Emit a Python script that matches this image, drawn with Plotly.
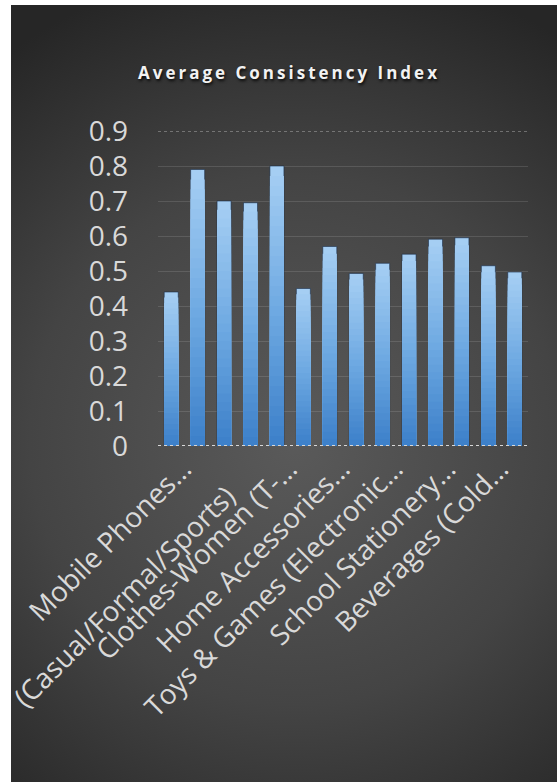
import base64
import plotly.graph_objects as go

# ---- data -------------------------------------------------------------
categories = [
    "Mobile Phones & Accessories",
    "Laptops & Computers",
    "Shoes (Casual/Formal/Sports)",
    "Clothes-Men (Shirts/Trousers)",
    "Clothes-Women (T-Shirts/Dresses)",
    "Watches & Jewellery",
    "Home Accessories & Decor",
    "Kitchen Appliances",
    "Toys & Games (Electronic/Board)",
    "Books & Magazines",
    "School Stationery & Supplies",
    "Snacks & Packaged Foods",
    "Beverages (Cold Drinks/Juices)",
    "Personal Care Products",
]
consistency = [0.44, 0.79, 0.70, 0.695, 0.80, 0.45, 0.57,
               0.493, 0.522, 0.548, 0.591, 0.595, 0.515, 0.497]

# every other category carries a (truncated) label
label_idx = [0, 4, 6, 8, 10, 12]
tick_labels = [
    "Mobile Phones…",
    "Clothes-Women (T-…",
    "Home Accessories…",
    "Toys & Games (Electronic…",
    "School Stationery…",
    "Beverages (Cold…",
]
# this category's label sits lower (wrapped label in the source layout)
wrapped_idx = 2
wrapped_label = "(Casual/Formal/Sports)"
y_ticks = [0, 0.1, 0.2, 0.3, 0.4, 0.5, 0.6, 0.7, 0.8, 0.9]

# ---- geometry ---------------------------------------------------------
W, H = 557, 782
M_L, M_R, M_T, M_B = 158, 29, 131, 336
PW = W - M_L - M_R
PH = H - M_T - M_B


def px_x(px):
    return (px - M_L) / PW


def px_y(py):
    return (H - M_B - py) / PH


FONT = "Open Sans"
LABEL_COLOR = "#d9d9d9"
TICK_SIZE = 28

# ---- dark radial background as an inline SVG --------------------------
bg_w, bg_h = W - 11, H - 5
svg = f"""<svg xmlns='http://www.w3.org/2000/svg' width='{bg_w}' height='{bg_h}'>
<defs><radialGradient id='g' gradientUnits='userSpaceOnUse' cx='{bg_w*0.52}' cy='{bg_h*0.56}' r='{bg_h*0.62}'>
<stop offset='0' stop-color='#5a5a5a'/><stop offset='0.55' stop-color='#444444'/>
<stop offset='1' stop-color='#262626'/></radialGradient></defs>
<rect width='{bg_w}' height='{bg_h}' fill='url(#g)'/></svg>"""
bg_src = "data:image/svg+xml;base64," + base64.b64encode(svg.encode()).decode()

fig = go.Figure()

# ---- bars: vertical gradient built from overlaid bars -----------------
top_rgb = (165, 206, 243)
mid_rgb = (110, 169, 226)
bot_rgb = (58, 126, 200)


def grad(f):
    if f >= 0.5:
        t = (f - 0.5) / 0.5
        a, b = mid_rgb, top_rgb
    else:
        t = f / 0.5
        a, b = bot_rgb, mid_rgb
    return "rgb(%d,%d,%d)" % tuple(round(a[i] + (b[i] - a[i]) * t) for i in range(3))


N = 28
for k in range(N):
    f = 1 - k / N
    fig.add_trace(go.Bar(
        x=categories,
        y=[v * f for v in consistency],
        marker=dict(color=grad(f),
                    line=dict(width=1 if k == 0 else 0, color="rgba(20,40,70,0.55)")),
        width=0.53,
        hoverinfo="skip" if k else "x+y",
        showlegend=False,
    ))

fig.update_layout(
    width=W, height=H,
    margin=dict(l=M_L, r=M_R, t=M_T, b=M_B, pad=0),
    paper_bgcolor="white",
    plot_bgcolor="rgba(0,0,0,0)",
    barmode="overlay",
    showlegend=False,
    font=dict(family=FONT, color=LABEL_COLOR),
    title=dict(
        text="<b><span style='letter-spacing:3px'>Average Consistency Index</span></b>",
        x=289 / W, xanchor="center", xref="container",
        y=1 - 73 / H, yanchor="middle", yref="container",
        font=dict(family=FONT, size=17, color="#f2f2f2",
                  shadow="1px 2px 3px rgba(0,0,0,0.85)"),
    ),
    xaxis=dict(
        type="category",
        categoryorder="array", categoryarray=categories,
        range=[-0.5, len(categories) - 0.5],
        tickmode="array",
        tickvals=[categories[i] for i in label_idx],
        ticktext=tick_labels,
        tickangle=-45,
        tickfont=dict(family=FONT, size=TICK_SIZE, color=LABEL_COLOR),
        ticks="", showgrid=False, zeroline=False, showline=False,
        ticklabelshift=12, automargin=False,
    ),
    yaxis=dict(
        range=[0, 0.9],
        tickmode="array", tickvals=y_ticks,
        ticktext=[f"{v:g}" for v in y_ticks],
        tickfont=dict(family=FONT, size=TICK_SIZE, color=LABEL_COLOR),
        ticks="", ticklabelstandoff=29, automargin=False,
        showgrid=True, gridcolor="rgba(255,255,255,0.12)", gridwidth=1,
        zeroline=False, showline=False,
    ),
    annotations=[dict(
        text=wrapped_label, x=categories[wrapped_idx], y=0, xref="x", yref="y",
        xanchor="right", yanchor="top", textangle=-45, showarrow=False,
        borderpad=0, xshift=20, yshift=-29,
        font=dict(family=FONT, size=TICK_SIZE, color=LABEL_COLOR),
    )],
    images=[dict(
        source=bg_src, xref="paper", yref="paper",
        x=px_x(11), y=px_y(5), sizex=bg_w / PW, sizey=bg_h / PH,
        xanchor="left", yanchor="top", sizing="stretch", layer="below",
    )],
    shapes=[
        # dotted top border and category axis line
        dict(type="line", xref="paper", yref="y", x0=0, x1=1, y0=0.9, y1=0.9,
             line=dict(color="rgba(210,210,210,0.75)", width=1, dash="dot"), layer="above"),
        dict(type="line", xref="paper", yref="y", x0=0, x1=1, y0=0, y1=0,
             line=dict(color="#d8d8d8", width=2, dash="dot"), layer="above"),
        # white page margin on the left
        dict(type="rect", xref="paper", yref="paper",
             x0=px_x(-5), x1=px_x(11), y0=px_y(H + 5), y1=px_y(-5),
             fillcolor="white", line=dict(width=0), layer="above"),
    ],
)

fig.write_html("out.html")
